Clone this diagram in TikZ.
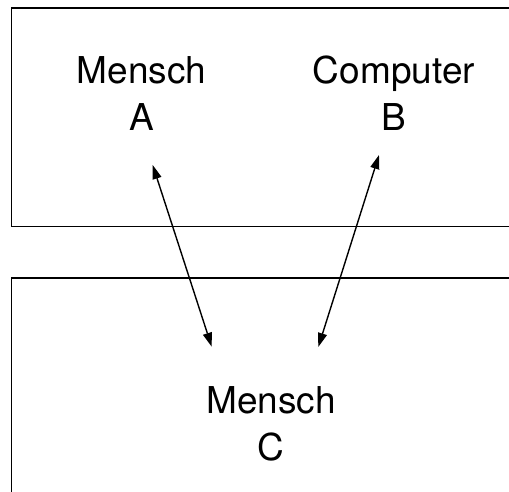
\documentclass[tikz,border=0pt]{standalone}
\usepackage{fontspec}
\setmainfont{TeX Gyre Heros}
\usetikzlibrary{arrows.meta}
\tikzset{box/.style={draw,line width=1.4pt},
    party/.style={align=center,font=\fontsize{37}{47}\selectfont},
    link/.style={line width=1.4pt,{Triangle[length=14pt,width=9pt]}-{Triangle[length=14pt,width=9pt]}},
    }
\begin{document}
\begin{tikzpicture}[x=1pt,y=-1pt]
	\useasboundingbox (0,0) rectangle (509,492);
	% the two rooms, cut off at the page edge
	\begin{scope}
	\clip (0,0) rectangle (509,492);
	\draw[box] (11.5,8) rectangle (530,226.5);
	\draw[box] (11.5,278) rectangle (530,510);
	\end{scope}
	\node[party] (a) at (141.5,93.5) {Mensch\\A};
	\node[party] (b) at (394,93.5) {Computer\\B};
	\node[party] (c) at (271,423.5) {Mensch\\C};
	% arrow ends
	\coordinate (a top) at (152.7,165);
	\coordinate (a bot) at (211.7,346.7);
	\coordinate (b top) at (379,155);
	\coordinate (b bot) at (318.3,347);
	\draw[link] (a top) -- (a bot);
	\draw[link] (b top) -- (b bot);
\end{tikzpicture}
\end{document}
